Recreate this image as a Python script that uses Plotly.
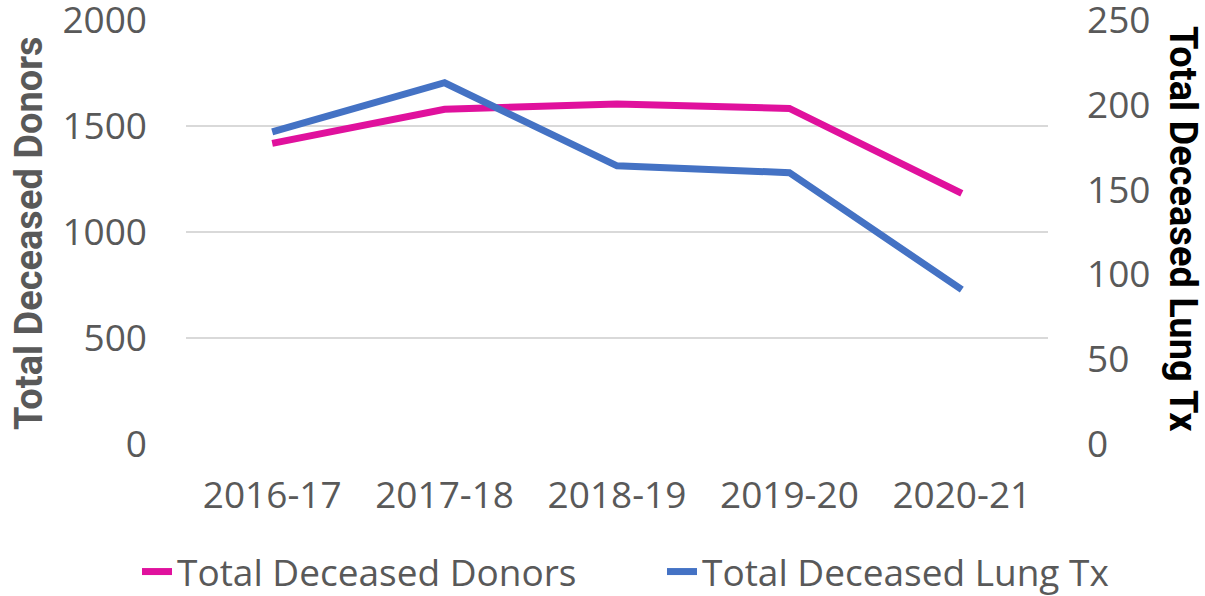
import plotly.graph_objects as go

years = ["2016-17", "2017-18", "2018-19", "2019-20", "2020-21"]
donors = [1418, 1579, 1604, 1583, 1182]
lung_tx = [184, 213, 164, 160, 91]

PINK = "#E0119D"
BLUE = "#4472C4"
GRAY = "#595959"
FONT = "Open Sans"
TFONT = "Roboto"

fig = go.Figure()
fig.add_trace(go.Scatter(x=years, y=donors, name="Total Deceased Donors",
                         mode="lines", line=dict(color=PINK, width=7), yaxis="y",
                         legend="legend"))
fig.add_trace(go.Scatter(x=years, y=lung_tx, name="Total Deceased Lung Tx",
                         mode="lines", line=dict(color=BLUE, width=7), yaxis="y2",
                         legend="legend2"))

W, H = 1205, 596
L, R, T, B = 186, 157, 20, 152
PW, PH = W - L - R, H - T - B

leg_common = dict(orientation="h", y=-(572 - 444) / PH, yanchor="middle",
                  xanchor="left", font=dict(family=FONT, size=37, color=GRAY),
                  itemwidth=30, bgcolor="rgba(0,0,0,0)")

fig.update_layout(
    width=W, height=H,
    margin=dict(l=L, r=R, t=T, b=B, pad=0, autoexpand=False),
    paper_bgcolor="white", plot_bgcolor="white",
    font=dict(family=FONT, size=37, color=GRAY),
    showlegend=True,
    legend=dict(x=(137 - L) / PW, **leg_common),
    legend2=dict(x=(662 - L) / PW, **leg_common),
    xaxis=dict(range=[-0.5, 4.5], showgrid=False, showline=False, zeroline=False,
               ticks="", tickfont=dict(family=FONT, size=37, color=GRAY),
               ticklabelstandoff=26, fixedrange=True, automargin=False),
    yaxis=dict(range=[0, 2000], dtick=500, tick0=0, showgrid=True,
               gridcolor="#D9D9D9", gridwidth=1.5, zeroline=False, showline=False,
               ticks="", tickfont=dict(family=FONT, size=37, color=GRAY),
               ticklabelstandoff=38, automargin=False, ticklabeloverflow="allow"),
    yaxis2=dict(range=[0, 250], dtick=50, tick0=0, overlaying="y", side="right",
                showgrid=False, zeroline=False, showline=False, ticks="",
                tickfont=dict(family=FONT, size=37, color=GRAY),
                ticklabelstandoff=38, automargin=False, ticklabeloverflow="allow"),
    annotations=[
        dict(text="<b>Total Deceased Donors</b>", xref="paper", yref="paper",
             x=(29 - L) / PW, y=(444 - 233) / PH,
             xanchor="center", yanchor="middle", textangle=-90, showarrow=False,
             font=dict(family=TFONT, size=38, color=GRAY)),
        dict(text="<b>Total Deceased Lung Tx</b>", xref="paper", yref="paper",
             x=(1183 - L) / PW, y=(444 - 229) / PH,
             xanchor="center", yanchor="middle", textangle=90, showarrow=False,
             font=dict(family=TFONT, size=38, color="black")),
    ],
)

fig.write_html("out.html", config={"displayModeBar": False},
               post_script="document.body.style.margin='0';")
